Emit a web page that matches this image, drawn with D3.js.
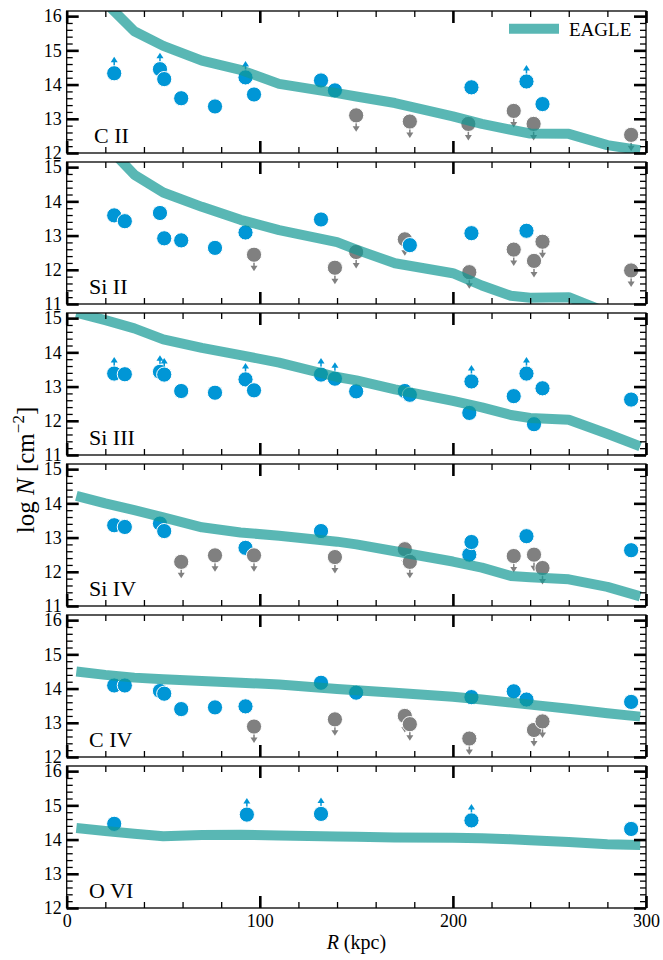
<!DOCTYPE html>
<html><head><meta charset="utf-8">
<script src="https://cdn.jsdelivr.net/npm/d3@7"></script>
<style>body{margin:0;background:#fff} svg text{font-family:"Liberation Serif","Times New Roman",Times,"DejaVu Serif",serif;}</style>
</head><body><svg id="c" width="663" height="960"></svg>
<script>
// ---- data ----
const ions = ["C II", "Si II", "Si III", "Si IV", "C IV", "O VI"];
const yLow = [12, 11, 11, 11, 12, 12];
const xMajorTicks = [0, 100, 200, 300];

const eagleR = [5, 20, 35, 50, 70, 90, 110, 140, 150, 170, 200, 215, 230, 240, 260, 280, 297];
const eagleCII  = [17.3, 16.4, 15.56, 15.13, 14.7, 14.43, 14.02, 13.75, 13.65, 13.46, 13.07, 12.85, 12.68, 12.57, 12.56, 12.23, 12.08];
const eagleSiII = [16.5, 15.67, 14.78, 14.26, 13.84, 13.46, 13.16, 12.81, 12.59, 12.19, 11.9, 11.54, 11.24, 11.18, 11.2, 10.75, 10.4];
const eagleSiIII= [15.16, 14.94, 14.7, 14.38, 14.13, 13.92, 13.7, 13.28, 13.18, 12.92, 12.58, 12.39, 12.17, 12.08, 12.03, 11.62, 11.25];
const eagleSiIV = [14.22, 14.0, 13.8, 13.59, 13.3, 13.15, 13.05, 12.88, 12.8, 12.6, 12.3, 12.12, 11.88, 11.84, 11.78, 11.56, 11.28];
const eagleCIV  = [14.5, 14.4, 14.32, 14.27, 14.22, 14.17, 14.12, 13.99, 13.95, 13.88, 13.76, 13.68, 13.59, 13.53, 13.41, 13.28, 13.18];
const eagleOVI  = [14.34, 14.25, 14.17, 14.1, 14.13, 14.14, 14.12, 14.09, 14.08, 14.06, 14.05, 14.04, 14.01, 13.98, 13.93, 13.86, 13.84];

// observations: [R (kpc), log N, type]  d = detection, l = lower limit, u = upper limit
const obsCII = [[24.6,14.33,"l"],[48.3,14.45,"l"],[50.5,14.16,"d"],[59.3,13.6,"d"],[76.8,13.36,"d"],[92.6,14.21,"l"],[97,13.71,"d"],[131.7,14.12,"d"],[138.9,13.83,"d"],[149.9,13.1,"u"],[177.7,12.92,"u"],[208,12.85,"u"],[209.6,13.92,"d"],[231.5,13.23,"u"],[238.1,14.09,"l"],[241.8,12.85,"u"],[246.4,13.43,"d"],[292.3,12.53,"u"]];
const obsSiII = [[24.6,13.59,"d"],[30.1,13.42,"d"],[48.3,13.66,"d"],[50.5,12.92,"d"],[59.3,12.86,"d"],[76.8,12.64,"d"],[92.6,13.09,"d"],[97,12.44,"u"],[131.7,13.47,"d"],[138.9,12.06,"u"],[149.9,12.52,"u"],[175.1,12.89,"u"],[177.7,12.72,"d"],[208.5,11.93,"u"],[209.6,13.07,"d"],[231.5,12.59,"u"],[238.1,13.14,"d"],[242,12.26,"u"],[246.4,12.82,"u"],[292.3,11.98,"u"]];
const obsSiIII = [[24.6,13.38,"l"],[30.1,13.36,"d"],[48.3,13.43,"l"],[50.5,13.35,"l"],[59.3,12.87,"d"],[76.8,12.82,"d"],[92.6,13.21,"l"],[97,12.89,"d"],[131.7,13.35,"l"],[138.9,13.23,"l"],[149.9,12.86,"d"],[175.1,12.87,"d"],[177.7,12.76,"d"],[208.5,12.23,"d"],[209.6,13.15,"l"],[231.5,12.72,"d"],[238.1,13.38,"l"],[242,11.9,"d"],[246.4,12.95,"d"],[292.3,12.62,"d"]];
const obsSiIV = [[24.6,13.36,"d"],[30.1,13.31,"d"],[48.3,13.41,"d"],[50.5,13.19,"d"],[59.3,12.29,"u"],[76.8,12.48,"u"],[92.6,12.7,"d"],[97,12.48,"u"],[131.7,13.19,"d"],[138.9,12.43,"u"],[175.1,12.66,"u"],[177.7,12.29,"u"],[208.5,12.5,"d"],[209.6,12.87,"d"],[231.5,12.46,"u"],[238.1,13.04,"d"],[242,12.5,"u"],[246.4,12.11,"u"],[292.3,12.63,"d"]];
const obsCIV = [[24.6,14.09,"d"],[30.1,14.09,"d"],[48.3,13.93,"d"],[50.5,13.85,"d"],[59.3,13.4,"d"],[76.8,13.45,"d"],[92.6,13.48,"d"],[97,12.89,"u"],[131.7,14.17,"d"],[138.9,13.1,"u"],[149.9,13.88,"d"],[175.1,13.2,"u"],[177.7,12.96,"u"],[208.5,12.54,"u"],[209.6,13.75,"d"],[231.5,13.92,"d"],[238.1,13.68,"d"],[242,12.79,"u"],[246.4,13.04,"u"],[292.3,13.61,"d"]];
const obsOVI = [[24.6,14.46,"d"],[93.3,14.73,"l"],[131.7,14.75,"l"],[209.6,14.56,"l"],[292.3,14.31,"d"]];

const eagleAll = [eagleCII, eagleSiII, eagleSiIII, eagleSiIV, eagleCIV, eagleOVI];
const obsAll = [obsCII, obsSiII, obsSiIII, obsSiIV, obsCIV, obsOVI];

// ---- layout ----
const X0 = 66.7, X1 = 646, PT = 11, PH = 142, PS = 151, SPAN = 4.15;
const BLUE = "#0096d6", GREY = "#808080", TEAL = "rgb(19,152,148)", TEAL_OP = 0.7;
const FONT = '"Liberation Serif","Times New Roman",Times,"DejaVu Serif",serif';
const svg = d3.select("#c");
const x = d3.scaleLinear().domain([0, 300]).range([X0, X1]);
const xMinor = d3.range(0, 301, 20).filter(v => v % 100 !== 0);

ions.forEach((ion, i) => {
  const top = PT + i * PS, bot = top + PH;
  const lo = yLow[i];
  const y = d3.scaleLinear().domain([lo, lo + SPAN]).range([bot, top]);
  const g = svg.append("g");
  const cid = "clip" + i;
  svg.append("clipPath").attr("id", cid).append("rect")
    .attr("x", X0).attr("y", top).attr("width", X1 - X0).attr("height", PH);
  const inner = g.append("g").attr("clip-path", `url(#${cid})`);

  // points
  const obs = obsAll[i];
  const pg = inner.append("g");
  obs.forEach(([r, n, t]) => {
    const cx = x(r), cy = y(n);
    const col = t === "u" ? GREY : BLUE;
    if (t === "l" || t === "u") {
      const s = t === "l" ? -1 : 1;
      pg.append("line").attr("x1", cx).attr("x2", cx)
        .attr("y1", cy + s * 7).attr("y2", cy + s * 12)
        .attr("stroke", col).attr("stroke-width", 1.5);
      pg.append("path")
        .attr("d", `M${cx - 3.5},${cy + s * 11}L${cx + 3.5},${cy + s * 11}L${cx},${cy + s * 16.5}Z`)
        .attr("fill", col);
    }
    pg.append("circle").attr("cx", cx).attr("cy", cy).attr("r", 7.6)
      .attr("fill", col).attr("stroke", "#fff").attr("stroke-width", 1);
  });

  // EAGLE line
  const line = d3.line().x((d, k) => x(eagleR[k])).y(d => y(d));
  inner.append("path").datum(eagleAll[i]).attr("d", line)
    .attr("fill", "none").attr("stroke", TEAL).attr("stroke-opacity", TEAL_OP)
    .attr("stroke-width", 10).attr("stroke-linejoin", "round");

  // axes
  const yMaj = d3.range(lo, lo + 4.001, 1);
  const yMin = d3.range(lo, lo + SPAN, 0.2).filter(v => Math.abs(v - Math.round(v)) > 0.01);
  function style(sel, w) {
    sel.attr("font-family", null);
    sel.select(".domain").remove();
    sel.selectAll(".tick line").attr("stroke", "#000").attr("stroke-width", w);
    sel.selectAll(".tick text").style("font-family", FONT).style("font-size", "18px").attr("fill", "#000");
  }
  g.append("g").attr("transform", `translate(${X0},0)`)
    .call(d3.axisLeft(y).tickValues(yMaj).tickSize(-12).tickPadding(5).tickFormat(d3.format("d"))).call(s => style(s, 2.6));
  g.append("g").attr("transform", `translate(${X0},0)`)
    .call(d3.axisLeft(y).tickValues(yMin).tickSize(-6).tickFormat("")).call(s => style(s, 1.3));
  g.append("g").attr("transform", `translate(${X1},0)`)
    .call(d3.axisRight(y).tickValues(yMaj).tickSize(-12).tickFormat("")).call(s => style(s, 2.6));
  g.append("g").attr("transform", `translate(${X1},0)`)
    .call(d3.axisRight(y).tickValues(yMin).tickSize(-6).tickFormat("")).call(s => style(s, 1.3));
  g.append("g").attr("transform", `translate(0,${top})`)
    .call(d3.axisTop(x).tickValues(xMajorTicks).tickSize(-12).tickFormat("")).call(s => style(s, 2.6));
  g.append("g").attr("transform", `translate(0,${top})`)
    .call(d3.axisTop(x).tickValues(xMinor).tickSize(-6).tickFormat("")).call(s => style(s, 1.3));
  const last = i === ions.length - 1;
  g.append("g").attr("transform", `translate(0,${bot})`)
    .call(d3.axisBottom(x).tickValues(xMajorTicks).tickSize(-12).tickPadding(6)
      .tickFormat(last ? d3.format("d") : "")).call(s => style(s, 2.6));
  g.append("g").attr("transform", `translate(0,${bot})`)
    .call(d3.axisBottom(x).tickValues(xMinor).tickSize(-6).tickFormat("")).call(s => style(s, 1.3));

  // frame
  g.append("rect").attr("x", X0).attr("y", top).attr("width", X1 - X0).attr("height", PH)
    .attr("fill", "none").attr("stroke", "#000").attr("stroke-width", 1.3);

  // ion label
  g.append("text").attr("x", i === 0 ? 94 : 89).attr("y", bot - 10)
    .style("font-family", FONT).style("font-size", "22px").text(ion);

  if (i === 0) {
    svg.append("line").attr("x1", 509).attr("x2", 559).attr("y1", 28.7).attr("y2", 28.7)
      .attr("stroke", TEAL).attr("stroke-opacity", TEAL_OP).attr("stroke-width", 10);
    svg.append("text").attr("x", 569).attr("y", 36).style("font-family", FONT)
      .style("font-size", "19px").text("EAGLE");
  }
});

// axis titles
const xt = svg.append("text").attr("x", (X0 + X1) / 2).attr("y", 949)
  .attr("text-anchor", "middle").style("font-family", FONT).style("font-size", "20px");
xt.append("tspan").attr("font-style", "italic").text("R");
xt.append("tspan").text(" (kpc)");

const yt = svg.append("text").attr("transform", "translate(34,470) rotate(-90)")
  .attr("text-anchor", "middle").style("font-family", FONT).style("font-size", "25px");
yt.append("tspan").text("log ");
yt.append("tspan").attr("font-style", "italic").text("N");
yt.append("tspan").text(" [cm");
yt.append("tspan").style("font-size", "17px").attr("dy", -10).text("\u22122");
yt.append("tspan").attr("dy", 10).text("]");
</script>
</body></html>
